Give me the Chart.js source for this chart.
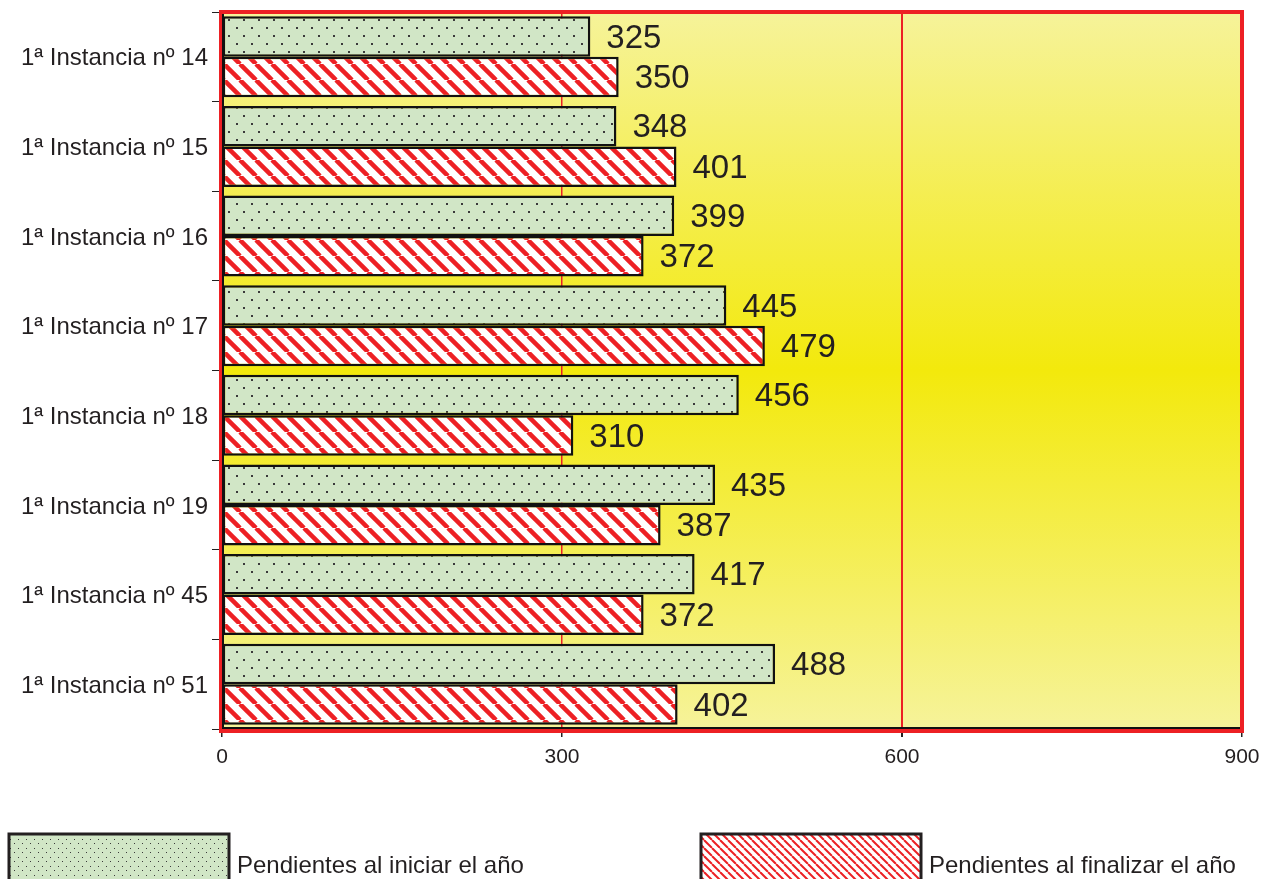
<!DOCTYPE html>
<html>
<head>
<meta charset="utf-8">
<script src="https://cdn.jsdelivr.net/npm/chart.js@4/dist/chart.umd.min.js"></script>
<style>
  html, body { margin: 0; padding: 0; background: #fff; }
  #wrap { width: 1262px; height: 879px; }
</style>
</head>
<body>
<div id="wrap"><canvas id="chart" width="1262" height="879"></canvas></div>
<script>
// data
const categories = ['1ª Instancia nº 14', '1ª Instancia nº 15', '1ª Instancia nº 16', '1ª Instancia nº 17',
                    '1ª Instancia nº 18', '1ª Instancia nº 19', '1ª Instancia nº 45', '1ª Instancia nº 51'];
const pendientesInicio = [325, 348, 399, 445, 456, 435, 417, 488];
const pendientesFinal = [350, 401, 372, 479, 310, 387, 372, 402];
const seriesNames = ['Pendientes al iniciar el año', 'Pendientes al finalizar el año'];
const xTicks = [0, 300, 600, 900];

const TEXT = '#231f20';
const RED = '#ed2024';
const FONT = '"Liberation Sans", Arial, sans-serif';

function dotPattern(scale){
    const c = document.createElement('canvas');
    const w = Math.round(15 * scale), h = Math.round(16 * scale);
    c.width = w; c.height = h;
    const g = c.getContext('2d');
    g.fillStyle = '#d1e6c6';
    g.fillRect(0, 0, w, h);
    g.fillStyle = '#3a3a3a';
    const d = scale < 1 ? 1 : 2;
    g.fillRect(Math.round(3 * scale), Math.round(3 * scale), d, d);
    g.fillRect(Math.round(10.5 * scale), Math.round(11 * scale), d, d);
    return g.createPattern(c, 'repeat');
}

function stripePattern(size, lw){
    const c = document.createElement('canvas');
    c.width = size; c.height = size;
    const g = c.getContext('2d');
    g.fillStyle = '#ffffff';
    g.fillRect(0, 0, size, size);
    g.strokeStyle = RED;
    g.lineWidth = lw;
    for(const o of [-size, 0, size]){
        g.beginPath();
        g.moveTo(o, 0);
        g.lineTo(o + size, size);
        g.stroke();
    }
    return g.createPattern(c, 'repeat');
}

const greenFill = dotPattern(1);
const redFill = stripePattern(16, 4.5);
const greenLegend = dotPattern(0.55);
const redLegend = stripePattern(8, 2);

// yellow gradient behind the plot
const bgPlugin = {
    id: 'bg',
    beforeDraw(chart){
        const {ctx, chartArea: a} = chart;
        const grad = ctx.createLinearGradient(0, a.top, 0, a.bottom);
        grad.addColorStop(0, '#f6f39a');
        grad.addColorStop(0.5, '#f3e90c');
        grad.addColorStop(1, '#f6f39a');
        ctx.save();
        ctx.fillStyle = grad;
        ctx.fillRect(a.left, a.top, a.right - a.left, a.bottom - a.top);
        ctx.restore();
    }
};

// red frame, value labels and legend
const overlayPlugin = {
    id: 'overlay',
    afterDatasetsDraw(chart){
        const {ctx} = chart;
        ctx.save();
        ctx.font = '33px ' + FONT;
        ctx.fillStyle = TEXT;
        ctx.textBaseline = 'middle';
        chart.data.datasets.forEach((ds, i) => {
            chart.getDatasetMeta(i).data.forEach((bar, j) => {
                ctx.fillText(ds.data[j], bar.x + 16, bar.y + 2);
            });
        });
        ctx.restore();
    },
    afterDraw(chart){
        const {ctx, chartArea: a} = chart;
        ctx.save();
        ctx.strokeStyle = RED;
        ctx.lineWidth = 4;
        ctx.strokeRect(a.left - 1, a.top, a.right - a.left + 1, a.bottom - a.top + 2);
        ctx.strokeStyle = '#111';
        ctx.lineWidth = 2;
        ctx.beginPath();
        ctx.moveTo(a.left + 1, a.top + 2);
        ctx.lineTo(a.left + 1, a.bottom - 1);
        ctx.lineTo(a.right - 2, a.bottom - 1);
        ctx.stroke();

        // legend
        const items = [
            {x: 8, fill: greenLegend, label: seriesNames[0]},
            {x: 700, fill: redLegend, label: seriesNames[1]}
        ];
        ctx.font = '24px ' + FONT;
        ctx.textBaseline = 'alphabetic';
        items.forEach(it => {
            ctx.fillStyle = it.fill;
            ctx.fillRect(it.x, 833, 222, 50);
            ctx.strokeStyle = '#231f20';
            ctx.lineWidth = 3;
            ctx.strokeRect(it.x + 1, 834, 220, 50);
            ctx.fillStyle = TEXT;
            ctx.fillText(it.label, it.x + 229, 873);
        });
        ctx.restore();
    }
};

new Chart(document.getElementById('chart'), {
    type: 'bar',
    data: {
        labels: categories,
        datasets: [
            {label: seriesNames[0], data: pendientesInicio, backgroundColor: greenFill,
             borderColor: '#111', borderWidth: 2.5, borderSkipped: false},
            {label: seriesNames[1], data: pendientesFinal, backgroundColor: redFill,
             borderColor: '#111', borderWidth: 2.5, borderSkipped: false}
        ]
    },
    options: {
        indexAxis: 'y',
        responsive: false,
        animation: false,
        layout: {autoPadding: false, padding: {top: 12, right: 20, bottom: 50, left: 0}},
        datasets: {bar: {categoryPercentage: 0.905, barPercentage: 1}},
        plugins: {legend: {display: false}, tooltip: {enabled: false}},
        scales: {
            x: {
                min: 0, max: 900,
                afterFit(scale){
                    scale.height = 100;
                    scale.paddingLeft = 0;
                    scale.paddingRight = 0;
                },
                afterBuildTicks(scale){ scale.ticks = xTicks.map(v => ({value: v})); },
                ticks: {font: {size: 21, family: FONT}, color: TEXT, padding: 8},
                grid: {
                    color: ctx => (ctx.tick && (ctx.tick.value === 300 || ctx.tick.value === 600)) ? RED : 'rgba(0,0,0,0)',
                    lineWidth: ctx => (ctx.tick && ctx.tick.value === 600) ? 2 : 1.5,
                    tickColor: '#222',
                    tickLength: 8
                },
                border: {display: false}
            },
            y: {
                afterFit(scale){
                    scale.width = 222;
                    scale.paddingTop = 0;
                    scale.paddingBottom = 0;
                },
                ticks: {font: {size: 24, family: FONT}, color: TEXT, padding: 4, labelOffset: 2},
                grid: {drawOnChartArea: false, tickColor: '#222', tickLength: 10, offset: true},
                border: {display: false}
            }
        }
    },
    plugins: [bgPlugin, overlayPlugin]
});
</script>
</body>
</html>
